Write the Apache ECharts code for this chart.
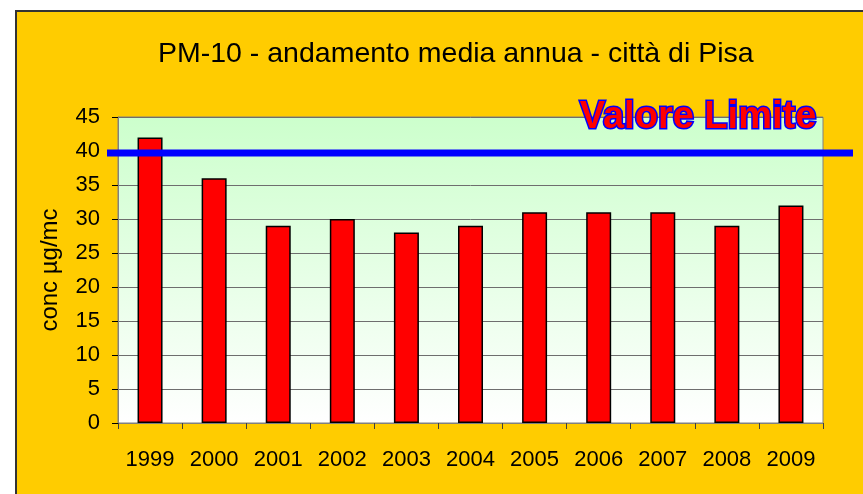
<!DOCTYPE html>
<html>
<head>
<meta charset="utf-8">
<script src="https://cdn.jsdelivr.net/npm/echarts@6/dist/echarts.min.js"></script>
<style>
  html, body { margin: 0; padding: 0; background: #fff; }
  #chart { width: 863px; height: 494px; }
</style>
</head>
<body>
<div id="chart"></div>
<script>
    var years = ['1999', '2000', '2001', '2002', '2003', '2004', '2005', '2006', '2007', '2008', '2009'];
    var pm10 = [42, 36, 29, 30, 28, 29, 31, 31, 31, 29, 32];
    var limitValue = 39.7;
    var yTicks = { min: 0, max: 45, interval: 5 };

    var font = '"Liberation Sans", Arial, sans-serif';
    var chart = echarts.init(document.getElementById('chart'));

    var option = {
        backgroundColor: '#ffffff',
        animation: false,
        title: {
            text: 'PM-10 - andamento media annua - città di Pisa',
            left: 153,
            top: 35,
            textStyle: { fontFamily: font, fontSize: 28.5, fontWeight: 'normal', color: '#000' }
        },
        grid: { left: 118, top: 117, right: 40, bottom: 71, show: true,
            borderColor: '#808080', borderWidth: 1,
            backgroundColor: new echarts.graphic.LinearGradient(0, 0, 0, 1, [
                { offset: 0, color: '#ccffcc' },
                { offset: 1, color: '#ffffff' }
            ])
        },
        xAxis: {
            type: 'category',
            data: years,
            boundaryGap: true,
            axisLine: { lineStyle: { color: '#808080', width: 1 } },
            axisTick: { show: true, length: 6, lineStyle: { color: '#404040' } },
            axisLabel: { fontFamily: font, fontSize: 22, color: '#000', margin: 26 }
        },
        yAxis: {
            type: 'value',
            min: yTicks.min,
            max: yTicks.max,
            interval: yTicks.interval,
            name: 'conc µg/mc',
            nameLocation: 'middle',
            nameGap: 56,
            nameTextStyle: { fontFamily: font, fontSize: 24, color: '#000' },
            axisLine: { show: true, lineStyle: { color: '#808080' } },
            axisTick: { show: true, length: 6, lineStyle: { color: '#000' } },
            axisLabel: { fontFamily: font, fontSize: 22, color: '#000', margin: 18 },
            splitLine: { lineStyle: { color: '#6e6e6e', width: 1 } }
        },
        series: [{
            type: 'bar',
            data: pm10,
            barWidth: 25,
            itemStyle: { color: '#ff0000', borderColor: '#000', borderWidth: 1.5 }
        }]
    };
    chart.setOption(option);

    // limit line and frame drawn after layout, y from the axis scale
    var yLimit = chart.convertToPixel({ yAxisIndex: 0 }, limitValue);
    chart.setOption({
        graphic: [
            {
                type: 'rect', z: -10, silent: true,
                shape: { x: 16, y: 11, width: 900, height: 600 },
                style: { fill: '#ffcc00', stroke: '#333333', lineWidth: 2 }
            },
            {
                type: 'line', z: 100,
                shape: { x1: 107, y1: yLimit, x2: 853, y2: yLimit },
                style: { stroke: '#0000ff', lineWidth: 7 }
            },
            {
                type: 'text', z: 101,
                x: 698, y: 118,
                style: {
                    text: 'Valore Limite',
                    fontFamily: font, fontSize: 38, fontWeight: 'bold',
                    fill: '#ff0000', stroke: '#0000ff', lineWidth: 3,
                    align: 'center', verticalAlign: 'middle'
                }
            }
        ]
    });
</script>
</body>
</html>
